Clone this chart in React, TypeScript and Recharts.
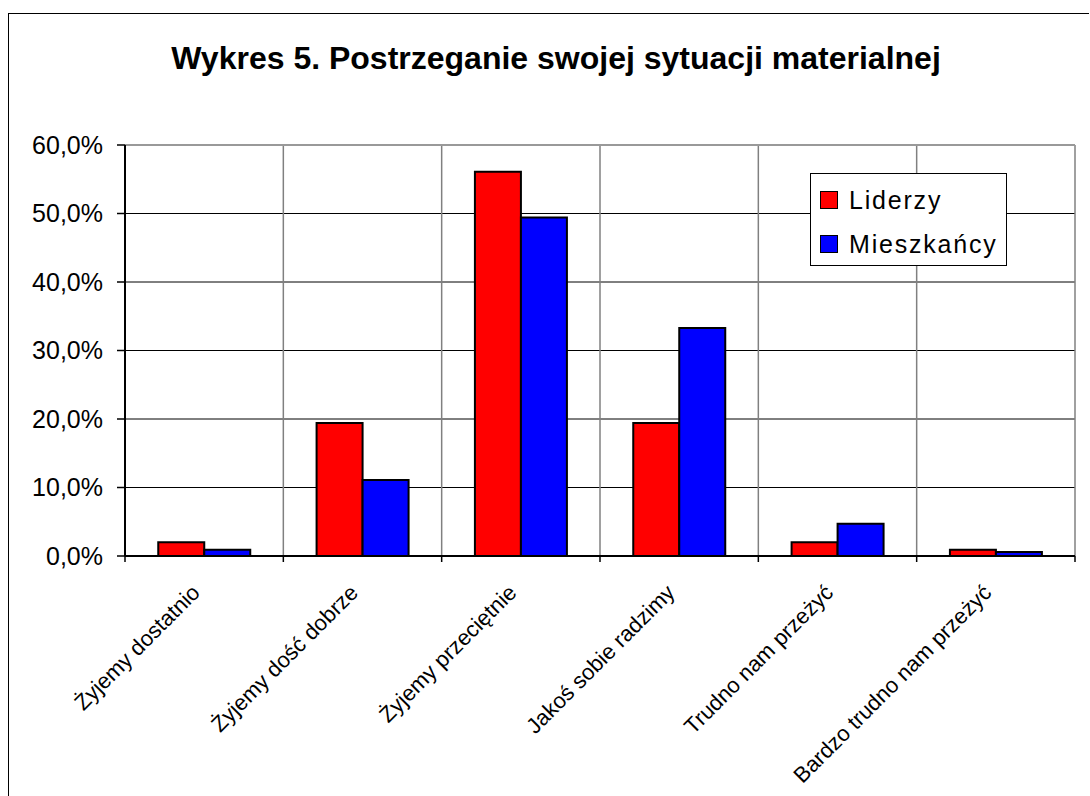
import { BarChart, Bar, XAxis, YAxis, CartesianGrid, Legend, ReferenceLine } from "recharts";

const categories = [
  "Żyjemy dostatnio",
  "Żyjemy dość dobrze",
  "Żyjemy przeciętnie",
  "Jakoś sobie radzimy",
  "Trudno nam przeżyć",
  "Bardzo trudno nam przeżyć",
];
const liderzy = [2.0, 19.4, 56.1, 19.4, 2.0, 0.9];
const mieszkancy = [0.9, 11.1, 49.4, 33.3, 4.7, 0.6];
const yTicks = [0, 10, 20, 30, 40, 50, 60];

const data = categories.map((name, i) => ({
  name,
  Liderzy: liderzy[i],
  Mieszkancy: mieszkancy[i],
}));

const FONT = '"Liberation Sans", Arial, sans-serif';
const W = 1090;
const H = 796;
const MARGIN = { top: 145, right: 15, bottom: 0, left: 0 };
const Y_W = 125;
const X_H = 240;
const PLOT_W = W - MARGIN.left - MARGIN.right - Y_W;
const BAND = PLOT_W / categories.length;

const fmt = (v: number) => v.toFixed(1).replace(".", ",") + "%";

function CatTick(props: any) {
  const { x, y, payload, index } = props;
  const ax = x - 3;
  const ay = y + 38;
  return (
    <g>
      <line x1={x - BAND / 2} y1={y} x2={x - BAND / 2} y2={y + 6} stroke="#000" strokeWidth={1.5} />
      {index === categories.length - 1 && (
        <line x1={x + BAND / 2} y1={y} x2={x + BAND / 2} y2={y + 6} stroke="#000" strokeWidth={1.5} />
      )}
      <text
        x={ax}
        y={ay}
        transform={`rotate(-45, ${ax}, ${ay})`}
        textAnchor="end"
        fontSize={22}
        fontFamily={FONT}
        fill="#000"
      >
        {payload.value}
      </text>
    </g>
  );
}

function LegendBox({ payload }: any) {
  return (
    <div
      style={{
        boxSizing: "border-box",
        width: 197,
        height: 93,
        border: "1px solid #000",
        background: "#fff",
        paddingTop: 4,
        paddingLeft: 9,
        fontFamily: FONT,
        fontSize: 25,
        letterSpacing: 1.8,
        color: "#000",
      }}
    >
      {(payload || []).map((p: any) => (
        <div key={p.value} style={{ display: "flex", alignItems: "center", height: 44, lineHeight: "44px" }}>
          <span
            style={{
              display: "inline-block",
              boxSizing: "border-box",
              width: 18,
              height: 18,
              background: p.color,
              border: "1.5px solid #000",
              marginRight: 11,
            }}
          />
          <span>{p.value === "Mieszkancy" ? "Mieszkańcy" : p.value}</span>
        </div>
      ))}
    </div>
  );
}

export default function App() {
  return (
    <div style={{ position: "absolute", left: 0, top: 0, width: W, height: H, background: "#fff" }}>
      <div
        style={{
          position: "absolute",
          left: 8,
          top: 13,
          width: 1081,
          height: 783,
          boxSizing: "border-box",
          borderLeft: "1px solid #000",
          borderTop: "1px solid #000",
        }}
      />
      <div
        style={{
          position: "absolute",
          left: 100,
          top: 41,
          width: 912,
          textAlign: "center",
          fontFamily: FONT,
          fontWeight: "bold",
          fontSize: 32,
          lineHeight: "34px",
          color: "#000",
        }}
      >
        Wykres 5. Postrzeganie swojej sytuacji materialnej
      </div>
      <div style={{ position: "absolute", left: 0, top: 0 }}>
        <BarChart width={W} height={H} data={data} margin={MARGIN} barCategoryGap="21%" barGap={0}>
          <CartesianGrid horizontal={true} vertical={false} stroke="#000" strokeWidth={1} />
          <CartesianGrid
            horizontal={false}
            vertical={true}
            stroke="#808080"
            strokeWidth={1.5}
            verticalCoordinatesGenerator={({ offset }: any) =>
              Array.from({ length: categories.length + 1 }, (_, i) => offset.left + (i * offset.width) / categories.length)
            }
          />
          <ReferenceLine y={60} stroke="#999" strokeWidth={2} />
          <XAxis
            dataKey="name"
            height={X_H}
            interval={0}
            tickLine={false}
            tickSize={0}
            tickMargin={0}
            axisLine={{ stroke: "#000", strokeWidth: 2 }}
            tick={<CatTick />}
          />
          <YAxis
            width={Y_W}
            domain={[0, 60]}
            ticks={yTicks}
            tickFormatter={fmt}
            tickSize={8}
            tickMargin={14}
            axisLine={{ stroke: "#000", strokeWidth: 2 }}
            tickLine={{ stroke: "#000", strokeWidth: 1.5 }}
            tick={{ fill: "#000", fontSize: 25, fontFamily: FONT }}
          />
          <Legend
            layout="vertical"
            align="center"
            verticalAlign="middle"
            wrapperStyle={{ left: 810, top: 173, width: 197, height: 93 }}
            content={<LegendBox />}
          />
          <Bar dataKey="Liderzy" fill="#FF0000" stroke="#000" strokeWidth={2} isAnimationActive={false} />
          <Bar dataKey="Mieszkancy" name="Mieszkancy" fill="#0000FF" stroke="#000" strokeWidth={2} isAnimationActive={false} />
        </BarChart>
      </div>
    </div>
  );
}
